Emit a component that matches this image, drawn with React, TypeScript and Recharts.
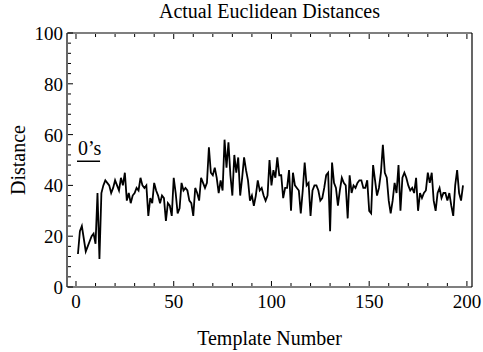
import React from 'react';
import { LineChart, Line, XAxis, YAxis, ReferenceLine } from 'recharts';

// distance for template 1..198
const distances = [
  13, 22, 24, 19, 14, 16, 18, 20, 21, 17,
  37, 11, 37, 40, 42, 41, 40, 37, 39, 42,
  40, 38, 43, 40, 45, 34, 37, 33, 36, 37,
  39, 38, 43, 40, 39, 40, 28, 35, 33, 41,
  38, 36, 33, 36, 35, 26, 33, 32, 28, 43,
  37, 29, 31, 41, 38, 39, 38, 34, 33, 28,
  39, 37, 34, 43, 41, 39, 41, 55, 45, 44,
  47, 43, 37, 42, 38, 58, 47, 57, 44, 36,
  52, 45, 51, 36, 43, 51, 46, 42, 34, 36,
  32, 36, 42, 38, 39, 36, 34, 36, 50, 40,
  46, 43, 51, 44, 44, 35, 39, 39, 46, 30,
  45, 40, 39, 38, 29, 38, 49, 40, 41, 28,
  38, 40, 40, 38, 34, 35, 39, 44, 45, 22,
  49, 41, 39, 32, 38, 43, 41, 40, 27, 44,
  37, 40, 39, 41, 42, 42, 39, 39, 42, 30,
  29, 48, 42, 36, 39, 45, 56, 45, 43, 34,
  29, 34, 41, 37, 48, 30, 43, 45, 43, 40,
  38, 39, 37, 43, 30, 37, 35, 37, 38, 45,
  41, 45, 34, 30, 37, 39, 35, 37, 37, 34,
  37, 32, 28, 40, 46, 37, 34, 40,
];

const xMajorTicks = [0, 50, 100, 150, 200];
const xTicks = [0, 10, 20, 30, 40, 50, 60, 70, 80, 90, 100, 110, 120, 130, 140, 150, 160, 170, 180, 190, 200];
const yMajorTicks = [0, 20, 40, 60, 80, 100];
const yTicks = [
  0, 4, 8, 12, 16, 20, 24, 28, 32, 36, 40, 44, 48, 52, 56, 60, 64, 68, 72, 76, 80, 84, 88, 92, 96, 100,
];

const zerosMark = [
  { x: 0.5, y: 49.5 },
  { x: 12.3, y: 49.5 },
];

const data = distances.map((d, i) => ({ template: i + 1, distance: d }));

const FONT = '"Liberation Serif", "Times New Roman", serif';
const xDomain: [number, number] = [-4.6, 202.6];

const len = (major: boolean) => (major ? 5 : 3);

function BottomTick(props: any) {
  const { x, y, payload } = props;
  const major = xMajorTicks.includes(payload.value);
  const y0 = y - 1;
  return (
    <g>
      <line x1={x} x2={x} y1={y0} y2={y0 - len(major)} stroke="#000" />
      {major && (
        <text x={x} y={y0 + 22} textAnchor="middle" fontFamily={FONT} fontSize={19} fill="#000">
          {payload.value}
        </text>
      )}
    </g>
  );
}

function TopTick(props: any) {
  const { x, y, payload } = props;
  const major = xMajorTicks.includes(payload.value);
  const y0 = y + 1;
  return <line x1={x} x2={x} y1={y0} y2={y0 + len(major)} stroke="#000" />;
}

function LeftTick(props: any) {
  const { x, y, payload } = props;
  const major = yMajorTicks.includes(payload.value);
  const x0 = x + 1;
  return (
    <g>
      <line x1={x0} x2={x0 + len(major)} y1={y} y2={y} stroke="#000" />
      {major && (
        <text x={x0 - 5} y={y + 7} textAnchor="end" fontFamily={FONT} fontSize={19} fill="#000">
          {payload.value}
        </text>
      )}
    </g>
  );
}

function RightTick(props: any) {
  const { x, y, payload } = props;
  const major = yMajorTicks.includes(payload.value);
  const x0 = x - 1;
  return <line x1={x0} x2={x0 - len(major)} y1={y} y2={y} stroke="#000" />;
}

export default function App() {
  return (
    <div style={{ position: 'absolute', left: 0, top: 0, background: '#fff' }}>
      <LineChart
        width={483}
        height={352}
        data={data}
        margin={{ top: 32, right: 10, bottom: 64, left: 66 }}
      >
        <XAxis
          xAxisId="main"
          dataKey="template"
          type="number"
          domain={xDomain}
          allowDataOverflow
          ticks={xTicks}
          interval={0}
          height={1}
          tickSize={0}
          tickMargin={0}
          tick={<BottomTick />}
          tickLine={false}
          axisLine={{ stroke: '#000', strokeWidth: 1.2 }}
          label={(props: any) => {
            const vb = props.viewBox || {};
            return (
              <text
                x={(vb.x ?? 67) + (vb.width ?? 405) / 2}
                y={(vb.y ?? 287) + 58}
                textAnchor="middle"
                fontFamily={FONT}
                fontSize={20}
                fill="#000"
              >
                Template Number
              </text>
            );
          }}
        />
        <XAxis
          xAxisId="top"
          orientation="top"
          dataKey="template"
          type="number"
          domain={xDomain}
          allowDataOverflow
          ticks={xTicks}
          interval={0}
          height={1}
          tickSize={0}
          tickMargin={0}
          tick={<TopTick />}
          tickLine={false}
          axisLine={{ stroke: '#000', strokeWidth: 1.2 }}
          label={(props: any) => {
            const vb = props.viewBox || {};
            return (
              <text
                x={(vb.x ?? 67) + (vb.width ?? 405) / 2}
                y={(vb.y ?? 32) + (vb.height ?? 1) - 15}
                textAnchor="middle"
                fontFamily={FONT}
                fontSize={20}
                fill="#000"
              >
                Actual Euclidean Distances
              </text>
            );
          }}
        />
        <YAxis
          yAxisId="main"
          type="number"
          domain={[0, 100]}
          ticks={yTicks}
          interval={0}
          width={1}
          tickSize={0}
          tickMargin={0}
          tick={<LeftTick />}
          tickLine={false}
          axisLine={{ stroke: '#000', strokeWidth: 1.2 }}
          label={(props: any) => {
            const vb = props.viewBox || {};
            const cy = (vb.y ?? 33) + (vb.height ?? 254) / 2;
            return (
              <text
                x={18}
                y={cy}
                transform={`rotate(-90, 18, ${cy})`}
                textAnchor="middle"
                dominantBaseline="central"
                fontFamily={FONT}
                fontSize={20}
                fill="#000"
              >
                Distance
              </text>
            );
          }}
        />
        <YAxis
          yAxisId="right"
          orientation="right"
          type="number"
          domain={[0, 100]}
          ticks={yTicks}
          interval={0}
          width={1}
          tickSize={0}
          tickMargin={0}
          tick={<RightTick />}
          tickLine={false}
          axisLine={{ stroke: '#000', strokeWidth: 1.2 }}
        />
        <ReferenceLine
          xAxisId="main"
          yAxisId="main"
          segment={zerosMark}
          stroke="#000"
          strokeWidth={1.5}
          label={(props: any) => {
            const vb = props.viewBox || {};
            return (
              <text
                x={(vb.x ?? 77) + 1}
                y={(vb.y ?? 161) - 6}
                fontFamily={FONT}
                fontSize={20}
                fill="#000"
              >
                0’s
              </text>
            );
          }}
        />
        <Line
          xAxisId="main"
          yAxisId="main"
          type="linear"
          dataKey="distance"
          stroke="#000"
          strokeWidth={1.8}
          dot={false}
          isAnimationActive={false}
        />
      </LineChart>
    </div>
  );
}
